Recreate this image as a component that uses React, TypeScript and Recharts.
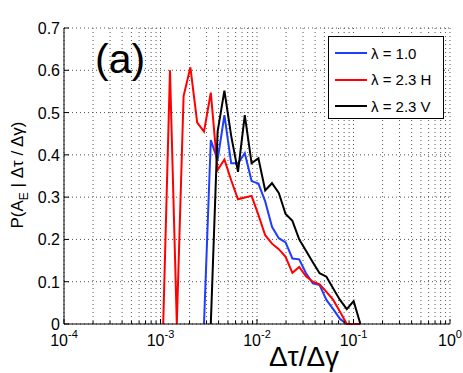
import { LineChart, Line, XAxis, YAxis, CartesianGrid } from 'recharts';

// bin centres of Δτ/Δγ (log spaced)
const binCenters = [
  0.001067, 0.001254, 0.001476, 0.001735, 0.002041, 0.002401, 0.002823, 0.003321,
  0.003906, 0.004594, 0.005402, 0.006355, 0.007472, 0.008791, 0.01034, 0.01216,
  0.0143, 0.01682, 0.01978, 0.02327, 0.02737, 0.03219, 0.03787, 0.04454,
  0.05239, 0.06162, 0.07248, 0.08523, 0.1003, 0.1179,
];

const lambda10 = [
  null, null, null, null, null, null, 0, 0.435,
  0.388, 0.494, 0.38, 0.38, 0.404, 0.338, 0.332, 0.29,
  0.23, 0.203, 0.193, 0.155, 0.153, 0.12, 0.096, 0.092,
  0.057, 0.035, 0.012, 0, null, null,
];

const lambda23H = [
  0, 0.6, 0, 0.539, 0.607, 0.476, 0.455, 0.547,
  0.364, 0.389, 0.34, 0.295, 0.299, 0.303, 0.258, 0.21,
  0.19, 0.177, 0.159, 0.121, 0.135, 0.113, 0.1, 0.094,
  0.076, 0.057, 0.029, 0, 0, 0,
];

const lambda23V = [
  null, null, null, null, null, null, null, 0,
  0.455, 0.552, 0.445, 0.36, 0.494, 0.38, 0.392, 0.316,
  0.333, 0.31, 0.26, 0.244, 0.2, 0.173, 0.146, 0.12,
  0.112, 0.084, 0.057, 0.035, 0.054, 0,
];

const decades = [1e-4, 1e-3, 1e-2, 1e-1, 1];
const yTicks = [0, 0.1, 0.2, 0.3, 0.4, 0.5, 0.6, 0.7];

const series = [
  { key: 'l10', name: 'λ = 1.0', color: '#1f3dff' },
  { key: 'l23h', name: 'λ = 2.3 H', color: '#ff0000' },
  { key: 'l23v', name: 'λ = 2.3 V', color: '#000000' },
];

const data = binCenters.map((x, i) => ({
  x,
  l10: lambda10[i],
  l23h: lambda23H[i],
  l23v: lambda23V[i],
}));

// major + minor log ticks
const xTicks = decades.flatMap((d, i) =>
  i === decades.length - 1 ? [d] : [1, 2, 3, 4, 5, 6, 7, 8, 9].map(m => d * m)
);

const FONT = '"Liberation Sans", Arial, Helvetica, sans-serif';

const isMajor = (v: number) => decades.some(d => Math.abs(d - v) < d * 1e-6);

function BottomTick({ x, y, payload }: any) {
  const major = isMajor(payload.value);
  const exp = Math.round(Math.log10(payload.value));
  return (
    <g>
      <line x1={x} y1={y} x2={x} y2={y - (major ? 5 : 3)} stroke="#000" />
      {major && (
        <text x={x} y={y + 22} textAnchor="middle" fontSize={16} fontFamily={FONT} fill="#000">
          10
          <tspan dy={-8} fontSize={11}>{exp}</tspan>
        </text>
      )}
    </g>
  );
}

function TopTick({ x, y, payload }: any) {
  const major = isMajor(payload.value);
  return <line x1={x} y1={y} x2={x} y2={y + (major ? 5 : 3)} stroke="#000" />;
}

function LeftTick({ x, y, payload }: any) {
  return (
    <g>
      <line x1={x} y1={y} x2={x + 5} y2={y} stroke="#000" />
      <text x={x - 4} y={y + 6} textAnchor="end" fontSize={16} fontFamily={FONT} fill="#000">
        {payload.value}
      </text>
    </g>
  );
}

function RightTick({ x, y }: any) {
  return <line x1={x} y1={y} x2={x - 5} y2={y} stroke="#000" />;
}

export default function App() {
  return (
    <div style={{ position: 'absolute', left: 0, top: 0, width: 463, height: 373, background: '#fff' }}>
      <LineChart width={463} height={373} data={data} margin={{ top: 28, right: 13, bottom: 0, left: 0 }}>
        <CartesianGrid stroke="#555" strokeDasharray="1 3" />
        <XAxis
          dataKey="x"
          type="number"
          scale="log"
          domain={[1e-4, 1]}
          allowDataOverflow
          ticks={xTicks}
          interval={0}
          tickSize={0}
          tickMargin={0}
          tick={<BottomTick />}
          height={49}
          stroke="#000"
          label={{
            content: ({ viewBox }: any) => (
              <text
                x={viewBox.x + viewBox.width / 2 + 47}
                y={viewBox.y + 42}
                textAnchor="middle"
                fontSize={28}
                fontFamily={FONT}
                fill="#000"
              >
                Δτ/Δγ
              </text>
            ),
          }}
        />
        <XAxis
          xAxisId="top"
          orientation="top"
          dataKey="x"
          type="number"
          scale="log"
          domain={[1e-4, 1]}
          allowDataOverflow
          ticks={xTicks}
          interval={0}
          tickSize={0}
          tickMargin={0}
          tick={<TopTick />}
          height={0}
          stroke="#000"
        />
        <YAxis
          type="number"
          domain={[0, 0.7]}
          ticks={yTicks}
          interval={0}
          tickSize={0}
          tickMargin={0}
          tick={<LeftTick />}
          width={64}
          stroke="#000"
          label={{
            content: ({ viewBox }: any) => {
              const cx = viewBox.x + 23;
              const cy = viewBox.y + viewBox.height / 2 - 1;
              return (
                <text
                  x={cx}
                  y={cy}
                  transform={`rotate(-90, ${cx}, ${cy})`}
                  textAnchor="middle"
                  fontSize={17}
                  fontFamily={FONT}
                  fill="#000"
                >
                  P(A
                  <tspan dy={5} fontSize={12}>E</tspan>
                  <tspan dy={-5}> | Δτ / Δγ)</tspan>
                </text>
              );
            },
          }}
        />
        <YAxis
          yAxisId="right"
          orientation="right"
          type="number"
          domain={[0, 0.7]}
          ticks={yTicks}
          interval={0}
          tickSize={0}
          tickMargin={0}
          tick={<RightTick />}
          width={0}
          stroke="#000"
        />
        {series.map(s => (
          <Line
            key={s.key}
            dataKey={s.key}
            stroke={s.color}
            strokeWidth={2}
            dot={false}
            activeDot={false}
            type="linear"
            isAnimationActive={false}
          />
        ))}
      </LineChart>

      <div
        style={{
          position: 'absolute',
          left: 95,
          top: 39,
          fontFamily: FONT,
          fontSize: 41,
          lineHeight: 1,
          color: '#000',
        }}
      >
        (a)
      </div>

      <div
        style={{
          position: 'absolute',
          left: 328,
          top: 36,
          width: 114,
          height: 81,
          border: '1px solid #000',
          background: '#fff',
          fontFamily: FONT,
          fontSize: 15,
        }}
      >
        {series.map((s, i) => (
          <div
            key={s.key}
            style={{
              position: 'absolute',
              left: 6,
              top: 6 + i * 26.5,
              height: 20,
              display: 'flex',
              alignItems: 'center',
              whiteSpace: 'nowrap',
            }}
          >
            <span style={{ display: 'inline-block', width: 32, height: 2, background: s.color, marginRight: 4 }} />
            <span>{s.name}</span>
          </div>
        ))}
      </div>
    </div>
  );
}
